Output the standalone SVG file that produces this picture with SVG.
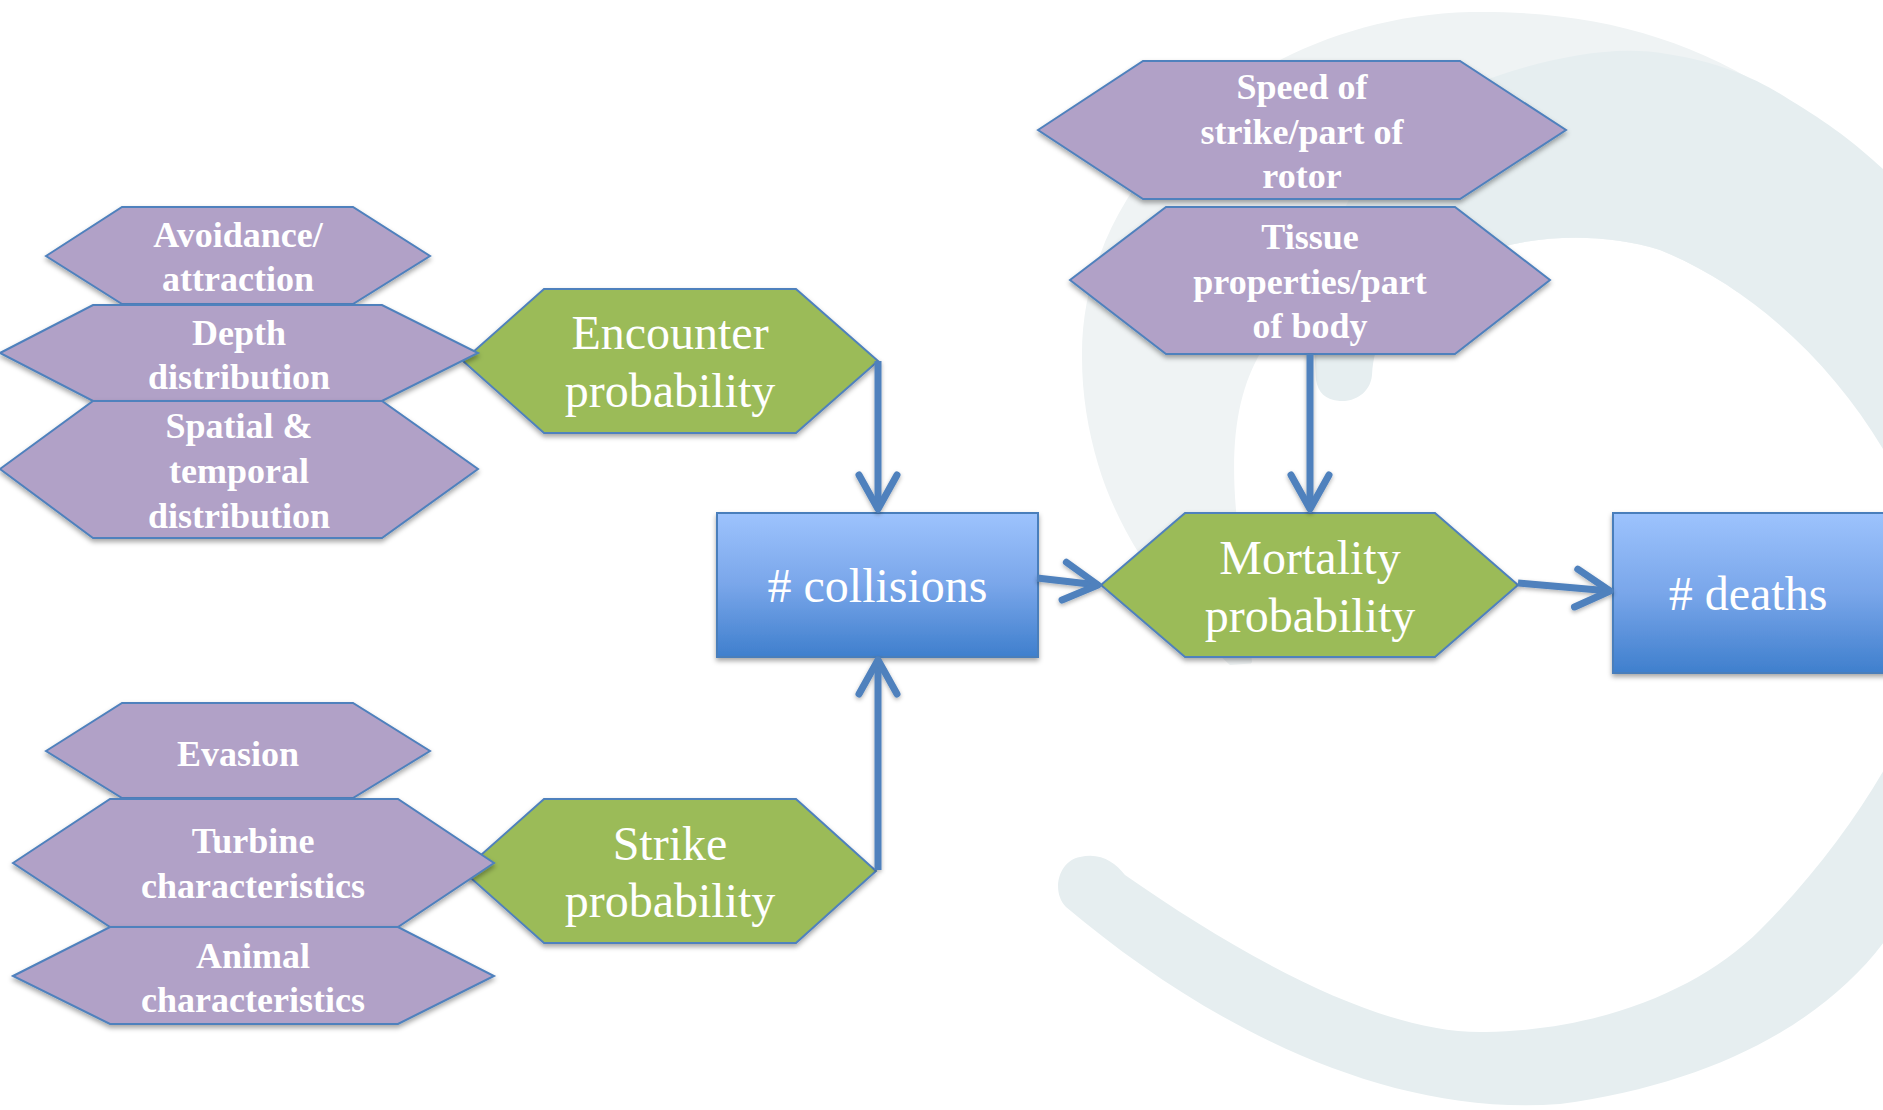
<svg xmlns="http://www.w3.org/2000/svg" width="1883" height="1110" viewBox="0 0 1883 1110">
<defs>
<style>
.pu{fill:#b1a1c7;stroke:#4f81bd;stroke-width:2;filter:url(#sh)}
.gr{fill:#9bbb59;stroke:#4f81bd;stroke-width:2;filter:url(#sh)}
.bx{fill:url(#bg);stroke:#4a7ebb;stroke-width:2;filter:url(#sh)}
.tp{font-family:"Liberation Serif","Times New Roman",serif;font-weight:bold;font-size:36px;fill:#fff;text-anchor:middle}
.tg{font-family:"Liberation Serif","Times New Roman",serif;font-size:48px;fill:#fff;text-anchor:middle}
.cn{fill:none;stroke:#4f81bd;stroke-width:7;marker-end:url(#arr)}
</style>
<linearGradient id="bg" x1="0" y1="0" x2="0" y2="1">
<stop offset="0" stop-color="#9dc3fd"/>
<stop offset="0.5" stop-color="#79a6ea"/>
<stop offset="1" stop-color="#3f7fcd"/>
</linearGradient>
<filter id="sh" x="-10%" y="-10%" width="120%" height="130%">
<feDropShadow dx="0" dy="3" stdDeviation="2.5" flood-color="#000" flood-opacity="0.35"/>
</filter>
<filter id="sh2" x="-20%" y="-20%" width="140%" height="140%">
<feDropShadow dx="0" dy="2" stdDeviation="2" flood-color="#000" flood-opacity="0.3"/>
</filter>
<marker id="arr" markerUnits="userSpaceOnUse" viewBox="-45 -25 50 50" refX="0" refY="0" markerWidth="50" markerHeight="50" orient="auto" overflow="visible">
<path d="M-34,-19 L0,0 L-34,19" fill="none" stroke="#4f81bd" stroke-width="7" stroke-linecap="round" stroke-linejoin="round"/>
</marker>
</defs>
<rect width="1883" height="1110" fill="#fff"/>
<g id="background">
<path d="M1082,357 C1080,180 1250,18 1470,12 C1600,10 1700,40 1800,110 L1700,400 L1300,660 L1230,665 C1180,620 1120,540 1098,464 C1088,430 1082,395 1082,357 Z" fill="#eff3f4"/>
<path d="M1368,385 C1372,350 1390,310 1430,280 C1480,240 1580,225 1660,250 C1760,290 1850,380 1900,480 L1900,740 C1870,800 1820,870 1760,930 C1700,990 1600,1030 1486,1032 C1380,1035 1240,955 1125,875 L1252,662 C1246,600 1240,560 1236,510 C1230,440 1238,390 1262,350 C1280,320 1300,300 1318,295 L1345,300 Z" fill="#fff"/>
<path d="M1316,380 C1305,250 1360,120 1500,75 C1560,55 1620,45 1667,54 C1720,62 1760,80 1790,100 C1840,130 1870,155 1910,195 L1950,200 L1950,900 L1910,900 C1860,1000 1740,1080 1560,1104 C1380,1118 1200,1020 1066,907 C1050,890 1060,860 1080,857 C1100,852 1115,862 1125,875 C1240,955 1380,1035 1486,1032 C1600,1030 1700,990 1760,930 C1820,870 1870,800 1900,740 L1900,480 C1850,380 1760,290 1660,250 C1580,225 1480,240 1430,280 C1390,310 1374,340 1372,375 C1370,395 1352,402 1340,401 C1325,400 1318,392 1316,380 Z" fill="#e6eef0"/>
</g>
<g id="encounter">
<polygon class="gr" points="463,361 544,289 796,289 878,361 796,433 544,433"/>
<text class="tg" x="670" y="349">Encounter</text>
<text class="tg" x="670" y="407">probability</text>
</g>
<g id="strike">
<polygon class="gr" points="463,871 544,799 796,799 876,871 796,943 544,943"/>
<text class="tg" x="670" y="860">Strike</text>
<text class="tg" x="670" y="917">probability</text>
</g>
<g id="avoidance">
<polygon class="pu" points="46,256 122,207 353,207 430,256 353,304 122,304"/>
<text class="tp" x="238" y="247">Avoidance/</text>
<text class="tp" x="238" y="291">attraction</text>
</g>
<g id="depth">
<polygon class="pu" points="0,353 93,305 382,305 478,353 382,401 93,401"/>
<text class="tp" x="239" y="345">Depth</text>
<text class="tp" x="239" y="389">distribution</text>
</g>
<g id="spatial">
<polygon class="pu" points="0,469 93,401 382,401 478,469 382,538 93,538"/>
<text class="tp" x="239" y="438">Spatial &amp;</text>
<text class="tp" x="239" y="483">temporal</text>
<text class="tp" x="239" y="528">distribution</text>
</g>
<g id="evasion">
<polygon class="pu" points="46,751 122,703 353,703 430,751 353,798 122,798"/>
<text class="tp" x="238" y="766">Evasion</text>
</g>
<g id="turbine">
<polygon class="pu" points="13,863 110,799 398,799 494,863 398,927 110,927"/>
<text class="tp" x="253" y="853">Turbine</text>
<text class="tp" x="253" y="898">characteristics</text>
</g>
<g id="animal">
<polygon class="pu" points="13,976 110,927 398,927 494,976 398,1024 110,1024"/>
<text class="tp" x="253" y="968">Animal</text>
<text class="tp" x="253" y="1012">characteristics</text>
</g>
<g id="speed">
<polygon class="pu" points="1038,130 1143,61 1460,61 1566,130 1460,199 1143,199"/>
<text class="tp" x="1302" y="99">Speed of</text>
<text class="tp" x="1302" y="144">strike/part of</text>
<text class="tp" x="1302" y="188">rotor</text>
</g>
<g id="tissue">
<polygon class="pu" points="1070,280 1166,207 1455,207 1550,280 1455,354 1166,354"/>
<text class="tp" x="1310" y="249">Tissue</text>
<text class="tp" x="1310" y="294">properties/part</text>
<text class="tp" x="1310" y="338">of body</text>
</g>
<g id="collisions">
<rect class="bx" x="717" y="513" width="321" height="144"/>
<text class="tg" x="877.5" y="602"># collisions</text>
</g>
<g id="mortality">
<polygon class="gr" points="1101,585 1185,513 1435,513 1518,585 1435,657 1185,657"/>
<text class="tg" x="1310" y="574">Mortality</text>
<text class="tg" x="1310" y="632">probability</text>
</g>
<g id="deaths">
<rect class="bx" x="1613" y="513" width="280" height="160"/>
<text class="tg" x="1748" y="610"># deaths</text>
</g>
<g id="connectors" filter="url(#sh2)">
<path class="cn" d="M878,361 L878,509"/>
<path class="cn" d="M878,870 L878,660"/>
<path class="cn" d="M1310,354 L1310,509"/>
<path class="cn" d="M1037,578 L1098,585"/>
<path class="cn" d="M1518,583 L1610,591"/>
</g>
</svg>
